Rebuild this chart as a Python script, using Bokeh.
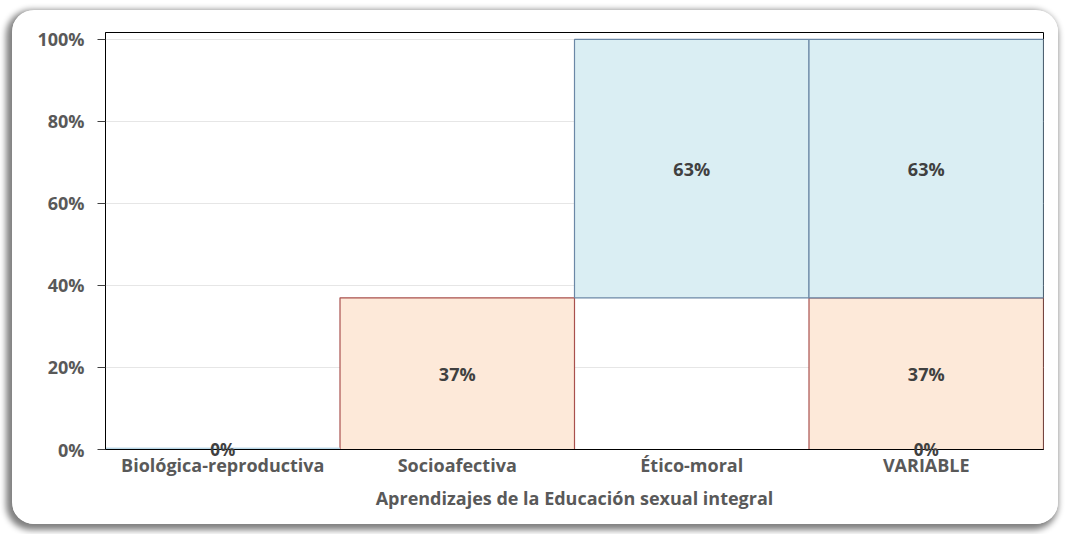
from bokeh.plotting import figure
from bokeh.models import (Range1d, FactorRange, PrintfTickFormatter, ColumnDataSource,
                          FixedTicker, CategoricalAxis, CustomJSTickFormatter)
from bokeh.core.properties import value
from bokeh.embed import file_html
from bokeh.resources import INLINE

categories = ["Biológica-reproductiva", "Socioafectiva", "Ético-moral", "VARIABLE"]
base_vals = [0, 0, 37, 0]          # invisible offset
socio_vals = [0, 37, 0, 37]        # pink series
etico_vals = [0, 0, 63, 63]        # blue series
zero_labels = [0, None, None, 0]   # "0%" labels at the base
y_ticks = [0, 20, 40, 60, 80, 100]

FONT = "Open Sans"
TXT = "#595959"

p = figure(x_range=FactorRange(*categories, range_padding=0), y_range=Range1d(0, 101.7),
           width=1046, height=514, output_backend="svg", toolbar_location=None,
           x_axis_location=None,
           min_border_left=93, min_border_right=15, min_border_top=22, min_border_bottom=75)
p.styles = {"margin-left": "12px", "margin-top": "10px", "border-radius": "22px",
            "box-shadow": "-3px 3px 6px 3px #808080", "overflow": "hidden"}
p.background_fill_color = "white"
p.border_fill_color = "white"
p.outline_line_color = "black"
p.outline_line_width = 1

# pink series
ps = ColumnDataSource(dict(
    x=[c for c, v in zip(categories, socio_vals) if v > 0],
    bottom=[b for b, v in zip(base_vals, socio_vals) if v > 0],
    top=[b + v for b, v in zip(base_vals, socio_vals) if v > 0],
    ymid=[b + v / 2 for b, v in zip(base_vals, socio_vals) if v > 0],
    lab=[f"{v}%" for v in socio_vals if v > 0]))
p.vbar(x="x", bottom="bottom", top="top", width=1.0, source=ps,
       fill_color="#FDE9D9", line_color="#A9504D", line_width=1.2)

# blue series
bs = ColumnDataSource(dict(
    x=[c for c, v in zip(categories, etico_vals) if v > 0],
    bottom=[b + s for b, s, v in zip(base_vals, socio_vals, etico_vals) if v > 0],
    top=[b + s + v for b, s, v in zip(base_vals, socio_vals, etico_vals) if v > 0],
    ymid=[b + s + v / 2 for b, s, v in zip(base_vals, socio_vals, etico_vals) if v > 0],
    lab=[f"{v}%" for v in etico_vals if v > 0]))
p.vbar(x="x", bottom="bottom", top="top", width=1.0, source=bs,
       fill_color="#DAEEF3", line_color="#6B88A6", line_width=1.2)

# zero-height bar at Biológica-reproductiva
p.vbar(x=[categories[0]], bottom=[0.3], top=[0.3], width=1.0,
       fill_color="#DAEEF3", line_color="#B5D5E6", line_width=1)

for src in (ps, bs):
    p.text(x="x", y="ymid", text="lab", source=src, text_align="center", text_baseline="middle",
           text_font=value(FONT), text_font_style="bold", text_font_size="18px", text_color="#404040")

# x axis 1: carries the "0%" data labels that sit on the axis line
zero_map = {c: (f"{v}%" if v is not None else " ") for c, v in zip(categories, zero_labels)}
zero_axis = CategoricalAxis(
    formatter=CustomJSTickFormatter(args=dict(labels=zero_map),
                                    code="const s = labels.get ? labels.get(tick) : labels[tick]; return s === undefined ? ' ' : s;"),
    major_label_standoff=-18, axis_line_color="black",
    major_tick_line_color=None, minor_tick_line_color=None,
    major_label_text_font=FONT, major_label_text_font_style="bold",
    major_label_text_font_size="17px", major_label_text_color="#404040")
p.add_layout(zero_axis, "below")

# x axis 2: category names and title
cat_axis = CategoricalAxis(
    axis_label="Aprendizajes de la Educación sexual integral",
    axis_label_text_font=FONT, axis_label_text_font_style="bold",
    axis_label_text_font_size="18px", axis_label_text_color=TXT, axis_label_standoff=6,
    axis_line_color=None, major_tick_line_color=None, minor_tick_line_color=None,
    major_label_text_font=FONT, major_label_text_font_style="bold",
    major_label_text_font_size="18px", major_label_text_color=TXT, major_label_standoff=-17)
p.add_layout(cat_axis, "below")

# y axis
p.yaxis.ticker = FixedTicker(ticks=y_ticks)
p.yaxis.formatter = PrintfTickFormatter(format="%d%%")
p.yaxis.minor_tick_line_color = None
p.yaxis.major_tick_out = 8
p.yaxis.major_tick_in = 0
p.yaxis.axis_line_color = "black"
p.yaxis.major_tick_line_color = "#404040"
p.yaxis.major_label_text_font = FONT
p.yaxis.major_label_text_font_style = "bold"
p.yaxis.major_label_text_font_size = "18px"
p.yaxis.major_label_text_color = TXT
p.yaxis.major_label_standoff = 13

p.xgrid.grid_line_color = None
p.ygrid.grid_line_color = "#E6E6E6"
p.ygrid.grid_line_width = 1

open("out.html", "w").write(file_html(p, INLINE))
